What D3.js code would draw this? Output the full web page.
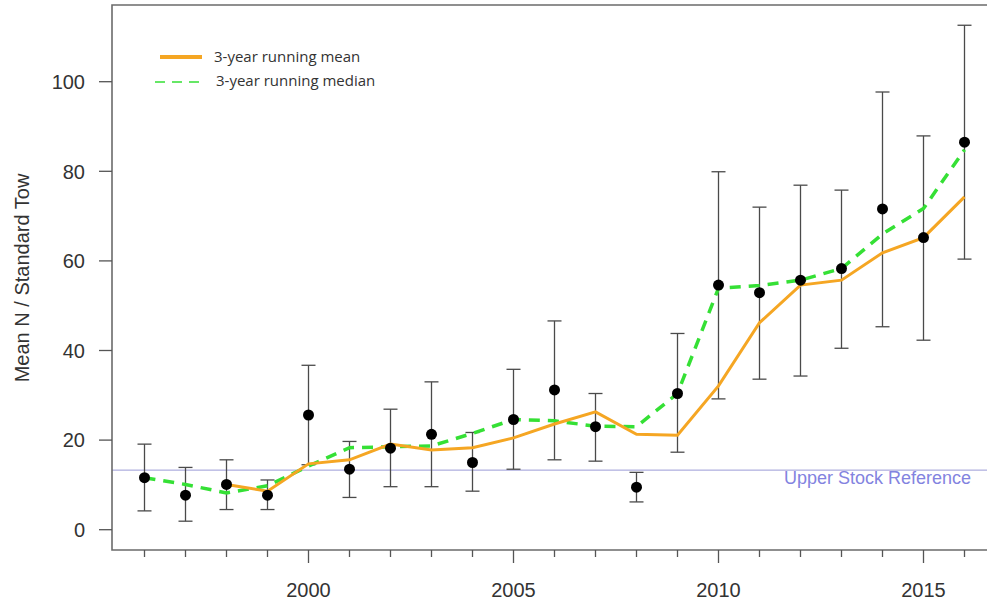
<!DOCTYPE html>
<html lang="en">
<head>
    <meta charset="UTF-8">
    <title>Mean N / Standard Tow</title>
    <style>
        body { margin: 0; background: #fff; }
        .frame { fill: none; stroke: #6b6b6b; stroke-width: 1.6px; }
        .tick-line { stroke: #555; stroke-width: 1.3px; }
        .tick-label { font-family: Arial, "Liberation Sans", sans-serif; font-size: 20px; fill: #333; }
        .axis-title { font-family: Arial, "Liberation Sans", sans-serif; font-size: 20px; fill: #333; text-anchor: middle; }
        .errbar { stroke: #4a4a4a; stroke-width: 1.3px; }
        .ref-line { stroke: #9a9ad6; stroke-width: 1px; }
        .ref-label { font-family: Arial, "Liberation Sans", sans-serif; font-size: 18px; fill: #8383e0; text-anchor: end; }
        .legend-label { font-family: "Open Sans", sans-serif; font-size: 15px; fill: #333; }
    </style>
</head>
<body>
    <script src="https://d3js.org/d3.v7.min.js"></script>
    <script>
        // survey index by year, with error bar limits
        const years = d3.range(1996, 2017);
        const index = [11.6, 7.7, 10.1, 7.7, 25.6, 13.5, 18.2, 21.3, 15.0, 24.6, 31.2, 23.0, 9.5, 30.4, 54.6, 52.9, 55.7, 58.3, 71.6, 65.2, 86.5];
        const upper = [19.1, 13.9, 15.6, 11.1, 36.7, 19.7, 26.9, 33.0, 21.7, 35.8, 46.6, 30.4, 12.8, 43.8, 79.9, 72.0, 76.9, 75.8, 97.7, 87.9, 112.6];
        const lower = [4.2, 1.9, 4.5, 4.5, 14.5, 7.2, 9.6, 9.6, 8.6, 13.5, 15.6, 15.3, 6.2, 17.3, 29.2, 33.6, 34.3, 40.5, 45.3, 42.3, 60.4];

        // running mean starts in 1998, running median in 1996
        const meanYears = d3.range(1998, 2017);
        const runMean = [10.1, 8.6, 14.7, 15.6, 19.1, 17.8, 18.3, 20.5, 23.6, 26.3, 21.3, 21.1, 32.1, 46.2, 54.6, 55.7, 61.8, 65.2, 74.3];
        const runMedian = [11.6, 10.1, 8.2, 9.8, 14.2, 18.3, 18.5, 18.7, 21.5, 24.6, 24.3, 23.1, 23.0, 30.4, 53.9, 54.5, 55.7, 58.3, 66.0, 71.7, 84.8];

        const upperStockRef = 13.3;
        const yTicks = [0, 20, 40, 60, 80, 100];
        const xLabels = [2000, 2005, 2010, 2015];

        const width = 987;
        const height = 600;
        const plotLeft = 112, plotTop = 5, plotBottom = 550;

        const svg = d3.select("body").append("svg")
            .attr("width", width)
            .attr("height", height);

        const x = d3.scaleLinear().domain([1996, 2016]).range([144.5, 964.5]);
        const y = d3.scaleLinear().domain([0, 100]).range([529.7, 81.7]);

        // reference line
        svg.append("line")
            .attr("class", "ref-line")
            .attr("x1", plotLeft).attr("x2", width)
            .attr("y1", y(upperStockRef)).attr("y2", y(upperStockRef));
        svg.append("text")
            .attr("class", "ref-label")
            .attr("x", 971)
            .attr("y", y(upperStockRef) + 8)
            .attr("dy", "0.35em")
            .text("Upper Stock Reference");

        // frame (right side runs off the image)
        svg.append("path")
            .attr("class", "frame")
            .attr("d", `M${width},${plotTop}H${plotLeft}V${plotBottom}H${width}`);

        // y axis
        const yt = svg.append("g");
        yt.selectAll("line").data(yTicks).enter().append("line")
            .attr("class", "tick-line")
            .attr("x1", plotLeft - 13).attr("x2", plotLeft)
            .attr("y1", d => y(d)).attr("y2", d => y(d));
        yt.selectAll("text").data(yTicks).enter().append("text")
            .attr("class", "tick-label")
            .attr("x", 85)
            .attr("y", d => y(d))
            .attr("dy", "0.36em")
            .attr("text-anchor", "end")
            .text(d => d);

        // x axis
        const xt = svg.append("g");
        xt.selectAll("line").data(years).enter().append("line")
            .attr("class", "tick-line")
            .attr("x1", d => x(d)).attr("x2", d => x(d))
            .attr("y1", plotBottom)
            .attr("y2", d => d % 5 === 0 ? plotBottom + 13 : plotBottom + 7);
        xt.selectAll("text").data(xLabels).enter().append("text")
            .attr("class", "tick-label")
            .attr("x", d => x(d))
            .attr("y", 597)
            .attr("text-anchor", "middle")
            .text(d => d);

        svg.append("text")
            .attr("class", "axis-title")
            .attr("transform", "translate(29,278) rotate(-90)")
            .text("Mean N / Standard Tow");

        // error bars
        const bars = svg.append("g");
        years.forEach((yr, i) => {
            bars.append("line").attr("class", "errbar")
                .attr("x1", x(yr)).attr("x2", x(yr))
                .attr("y1", y(upper[i])).attr("y2", y(lower[i]));
            [upper[i], lower[i]].forEach(v => {
                bars.append("line").attr("class", "errbar")
                    .attr("x1", x(yr) - 7).attr("x2", x(yr) + 7)
                    .attr("y1", y(v)).attr("y2", y(v));
            });
        });

        const line = d3.line().x(d => x(d[0])).y(d => y(d[1]));

        svg.append("path")
            .datum(years.map((yr, i) => [yr, runMedian[i]]))
            .attr("d", line)
            .attr("fill", "none")
            .attr("stroke", "#35e035")
            .attr("stroke-width", 3.5)
            .attr("stroke-dasharray", "11,8");

        svg.append("path")
            .datum(meanYears.map((yr, i) => [yr, runMean[i]]))
            .attr("d", line)
            .attr("fill", "none")
            .attr("stroke", "#f5a623")
            .attr("stroke-width", 3);

        svg.append("g").selectAll("circle")
            .data(years.map((yr, i) => [yr, index[i]]))
            .enter().append("circle")
            .attr("cx", d => x(d[0]))
            .attr("cy", d => y(d[1]))
            .attr("r", 5.5)
            .attr("fill", "#000");

        // legend
        const legend = svg.append("g");
        legend.append("line")
            .attr("x1", 160).attr("x2", 202).attr("y1", 57).attr("y2", 57)
            .attr("stroke", "#f5a623").attr("stroke-width", 4);
        legend.append("line")
            .attr("x1", 155).attr("x2", 205).attr("y1", 82).attr("y2", 82)
            .attr("stroke", "#35e035").attr("stroke-width", 1.5)
            .attr("stroke-dasharray", "10,7");
        legend.append("text")
            .attr("class", "legend-label")
            .attr("x", 214).attr("y", 57).attr("dy", "0.35em")
            .text("3-year running mean");
        legend.append("text")
            .attr("class", "legend-label")
            .attr("x", 216).attr("y", 81).attr("dy", "0.35em")
            .text("3-year running median");
    </script>
</body>
</html>
